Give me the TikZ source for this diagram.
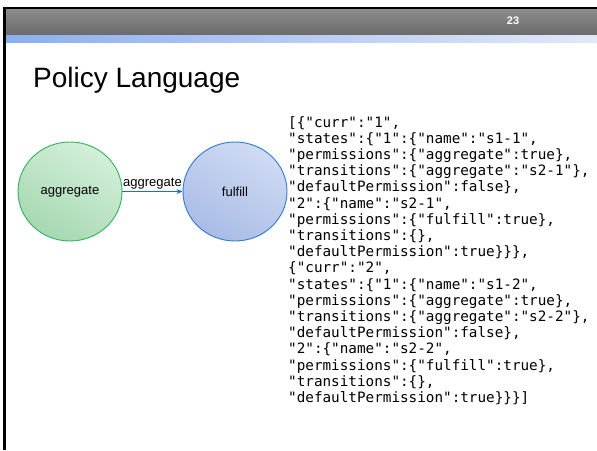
\documentclass[tikz,border=0pt]{standalone}
\usepackage{fontspec}
\setmainfont{Liberation Sans}
\newfontfamily\codefont{DejaVu Sans Mono}
\usetikzlibrary{shapes.geometric,arrows.meta}
\definecolor{barTop}{HTML}{8C8C8C}
\definecolor{barBot}{HTML}{6A6A6A}
\definecolor{stripL}{HTML}{8CAEEE}
\definecolor{stripR}{HTML}{E2E8F8}
\definecolor{greenEdge}{HTML}{2DB35D}
\definecolor{greenA}{HTML}{D3EFD9}
\definecolor{greenB}{HTML}{A6D8B2}
\definecolor{blueEdge}{HTML}{2A7BD0}
\definecolor{blueA}{HTML}{D0DBF3}
\definecolor{blueB}{HTML}{A9BCE6}
\definecolor{arrowBlue}{HTML}{1F6FC0}
\tikzset{
  state/.style={ellipse, minimum width=104pt, minimum height=99pt, line width=0.9pt,
    font=\fontsize{13}{15}\selectfont, inner sep=0pt},
  link/.style={draw=arrowBlue, line width=1.5pt, -{Stealth[length=6pt,width=5pt]}},
  lbl/.style={font=\fontsize{13}{15}\selectfont, inner sep=2pt},
  code/.style={font=\codefont\fontsize{14.3}{16.2}\selectfont, align=left, inner sep=0pt}
}
\begin{document}
\begin{tikzpicture}[x=1pt,y=-1pt]
\useasboundingbox (0,0) rectangle (597,450);
\fill[white] (0,0) rectangle (597,450);
\shade[top color=barTop, bottom color=barBot] (3,9) rectangle (597,35);
\shade[left color=stripL, right color=stripR] (3,35) rectangle (597,42);
\fill[black] (3,7) rectangle (597,9.3);
\fill[black] (3,7) rectangle (6,450);
\node[font=\bfseries\fontsize{11}{13}\selectfont, text=white] (num) at (513,21) {23};
\node[anchor=base west, font=\fontsize{28}{32}\selectfont, inner sep=0pt] (title) at (33,87) {Policy Language};
\node[state, draw=greenEdge, shade, left color=greenA, right color=greenB, shading angle=-30] (agg) at (70,191.5) {aggregate};
\node[state, draw=blueEdge, shade, left color=blueA, right color=blueB, shading angle=-30] (ful) at (235,191.5) {fulfill};
\draw[link] (agg) -- node[lbl, above] (elbl) {aggregate} (ful);
\node[code, anchor=base west] (json) at (288,402.5) {%
[\{"curr":"1",\\
"states":\{"1":\{"name":"s1-1",\\
"permissions":\{"aggregate":true\},\\
"transitions":\{"aggregate":"s2-1"\},\\
"defaultPermission":false\},\\
"2":\{"name":"s2-1",\\
"permissions":\{"fulfill":true\},\\
"transitions":\{\},\\
"defaultPermission":true\}\}\},\\
\{"curr":"2",\\
"states":\{"1":\{"name":"s1-2",\\
"permissions":\{"aggregate":true\},\\
"transitions":\{"aggregate":"s2-2"\},\\
"defaultPermission":false\},\\
"2":\{"name":"s2-2",\\
"permissions":\{"fulfill":true\},\\
"transitions":\{\},\\
"defaultPermission":true\}\}\}]};
\end{tikzpicture}
\end{document}
